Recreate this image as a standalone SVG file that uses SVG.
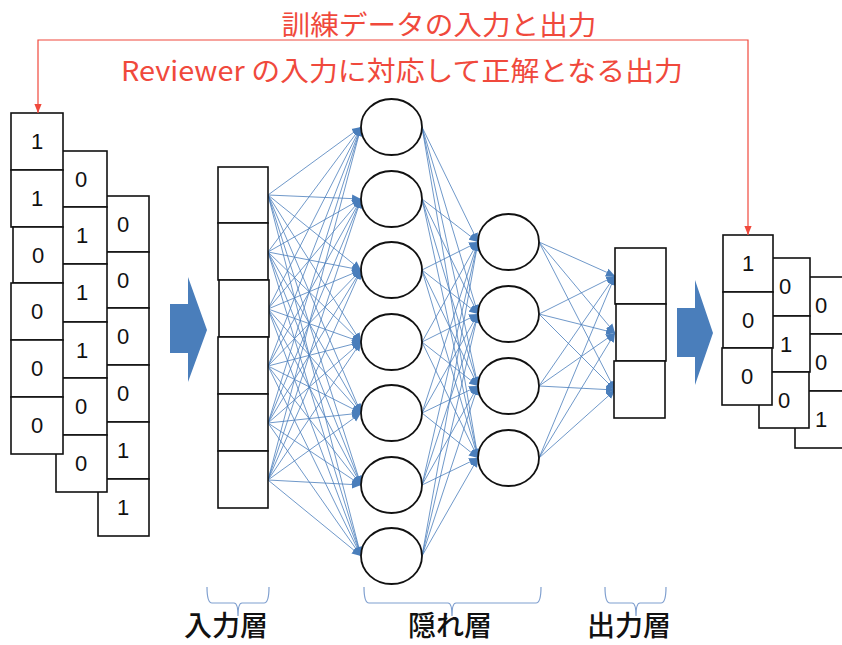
<svg xmlns="http://www.w3.org/2000/svg" width="842" height="645" viewBox="0 0 842 645">
<style>
.bx{fill:#fff;stroke:#111;stroke-width:1.6}
.dg{font-family:"Liberation Sans",Arial,sans-serif;font-size:22px;fill:#111;text-anchor:middle}
.cn line{stroke:#4a7ebb;stroke-width:0.8;marker-end:url(#ah)}
.nd{fill:#fff;stroke:#111;stroke-width:1.8}
.rd{font-family:"Noto Sans CJK JP","Liberation Sans",sans-serif;font-size:27px;fill:#f0493c;text-anchor:middle}
.lb{font-family:"Noto Sans CJK JP",sans-serif;font-size:28px;font-weight:500;fill:#111;text-anchor:middle}
.br{fill:none;stroke:#7f9fcf;stroke-width:1.2}
.ba{fill:#4a7ebb}
</style>
<defs>
<marker id="ah" viewBox="0 0 10 10" refX="10" refY="5" markerWidth="9" markerHeight="9" markerUnits="userSpaceOnUse" orient="auto"><path d="M0,0.5 L10,5 L0,9.5 z" fill="#4a7ebb"/></marker>
<marker id="rh" viewBox="0 0 10 10" refX="10" refY="5" markerWidth="9" markerHeight="9" markerUnits="userSpaceOnUse" orient="auto-start-reverse"><path d="M0,1 L10,5 L0,9 z" fill="#f0493c"/></marker>
</defs>
<rect width="842" height="645" fill="#fff"/>

<g id="titles">
<text class="rd" x="439" y="35" textLength="315" lengthAdjust="spacingAndGlyphs">訓練データの入力と出力</text>
<text class="rd" x="402" y="81" textLength="562" lengthAdjust="spacingAndGlyphs">Reviewer の入力に対応して正解となる出力</text>
</g>

<g id="input-data">
<rect class="bx" x="98" y="196" width="51" height="56"/><text class="dg" x="123" y="232">0</text>
<rect class="bx" x="98" y="252" width="51" height="56"/><text class="dg" x="123" y="288">0</text>
<rect class="bx" x="98" y="308" width="51" height="57"/><text class="dg" x="123" y="344">0</text>
<rect class="bx" x="98" y="365" width="51" height="57"/><text class="dg" x="123" y="401">0</text>
<rect class="bx" x="98" y="422" width="51" height="57"/><text class="dg" x="123" y="458">1</text>
<rect class="bx" x="98" y="479" width="51" height="57"/><text class="dg" x="123" y="515">1</text>
<rect class="bx" x="56" y="151" width="51" height="56"/><text class="dg" x="81" y="187">0</text>
<rect class="bx" x="56" y="207" width="51" height="57"/><text class="dg" x="82" y="243">1</text>
<rect class="bx" x="56" y="264" width="51" height="58"/><text class="dg" x="82" y="300">1</text>
<rect class="bx" x="56" y="322" width="51" height="56"/><text class="dg" x="82" y="358">1</text>
<rect class="bx" x="56" y="378" width="51" height="57"/><text class="dg" x="81" y="414">0</text>
<rect class="bx" x="56" y="435" width="51" height="57"/><text class="dg" x="81" y="471">0</text>
<rect class="bx" x="11" y="113" width="52" height="57"/><text class="dg" x="37" y="149">1</text>
<rect class="bx" x="11" y="170" width="52" height="57"/><text class="dg" x="37" y="206">1</text>
<rect class="bx" x="13" y="227" width="50" height="56"/><text class="dg" x="38" y="263">0</text>
<rect class="bx" x="11" y="283" width="52" height="57"/><text class="dg" x="37" y="319">0</text>
<rect class="bx" x="11" y="340" width="52" height="57"/><text class="dg" x="37" y="376">0</text>
<rect class="bx" x="11" y="397" width="52" height="57"/><text class="dg" x="37" y="433">0</text>
</g>

<g id="arrow-left"><path class="ba" d="M170,304 H188 V277 L207,330 L188,382 V353 H170 z"/></g>
<g id="arrow-right"><path class="ba" d="M677,308 H695 V280 L713,333 L695,385 V357 H677 z"/></g>

<g id="connectors" class="cn">
<line x1="268" y1="195" x2="361" y2="127"/><line x1="268" y1="195" x2="361" y2="199"/><line x1="268" y1="195" x2="361" y2="270"/><line x1="268" y1="195" x2="361" y2="342"/><line x1="268" y1="195" x2="361" y2="413"/><line x1="268" y1="195" x2="361" y2="485"/><line x1="268" y1="195" x2="361" y2="556"/>
<line x1="268" y1="252" x2="361" y2="127"/><line x1="268" y1="252" x2="361" y2="199"/><line x1="268" y1="252" x2="361" y2="270"/><line x1="268" y1="252" x2="361" y2="342"/><line x1="268" y1="252" x2="361" y2="413"/><line x1="268" y1="252" x2="361" y2="485"/><line x1="268" y1="252" x2="361" y2="556"/>
<line x1="268" y1="309" x2="361" y2="127"/><line x1="268" y1="309" x2="361" y2="199"/><line x1="268" y1="309" x2="361" y2="270"/><line x1="268" y1="309" x2="361" y2="342"/><line x1="268" y1="309" x2="361" y2="413"/><line x1="268" y1="309" x2="361" y2="485"/><line x1="268" y1="309" x2="361" y2="556"/>
<line x1="268" y1="366" x2="361" y2="127"/><line x1="268" y1="366" x2="361" y2="199"/><line x1="268" y1="366" x2="361" y2="270"/><line x1="268" y1="366" x2="361" y2="342"/><line x1="268" y1="366" x2="361" y2="413"/><line x1="268" y1="366" x2="361" y2="485"/><line x1="268" y1="366" x2="361" y2="556"/>
<line x1="268" y1="423" x2="361" y2="127"/><line x1="268" y1="423" x2="361" y2="199"/><line x1="268" y1="423" x2="361" y2="270"/><line x1="268" y1="423" x2="361" y2="342"/><line x1="268" y1="423" x2="361" y2="413"/><line x1="268" y1="423" x2="361" y2="485"/><line x1="268" y1="423" x2="361" y2="556"/>
<line x1="268" y1="480" x2="361" y2="127"/><line x1="268" y1="480" x2="361" y2="199"/><line x1="268" y1="480" x2="361" y2="270"/><line x1="268" y1="480" x2="361" y2="342"/><line x1="268" y1="480" x2="361" y2="413"/><line x1="268" y1="480" x2="361" y2="485"/><line x1="268" y1="480" x2="361" y2="556"/>
<line x1="422" y1="127" x2="478" y2="242"/><line x1="422" y1="127" x2="478" y2="314"/><line x1="422" y1="127" x2="478" y2="386"/><line x1="422" y1="127" x2="478" y2="458"/>
<line x1="422" y1="199" x2="478" y2="242"/><line x1="422" y1="199" x2="478" y2="314"/><line x1="422" y1="199" x2="478" y2="386"/><line x1="422" y1="199" x2="478" y2="458"/>
<line x1="422" y1="270" x2="478" y2="242"/><line x1="422" y1="270" x2="478" y2="314"/><line x1="422" y1="270" x2="478" y2="386"/><line x1="422" y1="270" x2="478" y2="458"/>
<line x1="422" y1="342" x2="478" y2="242"/><line x1="422" y1="342" x2="478" y2="314"/><line x1="422" y1="342" x2="478" y2="386"/><line x1="422" y1="342" x2="478" y2="458"/>
<line x1="422" y1="413" x2="478" y2="242"/><line x1="422" y1="413" x2="478" y2="314"/><line x1="422" y1="413" x2="478" y2="386"/><line x1="422" y1="413" x2="478" y2="458"/>
<line x1="422" y1="485" x2="478" y2="242"/><line x1="422" y1="485" x2="478" y2="314"/><line x1="422" y1="485" x2="478" y2="386"/><line x1="422" y1="485" x2="478" y2="458"/>
<line x1="422" y1="556" x2="478" y2="242"/><line x1="422" y1="556" x2="478" y2="314"/><line x1="422" y1="556" x2="478" y2="386"/><line x1="422" y1="556" x2="478" y2="458"/>
<line x1="539" y1="242" x2="615" y2="276"/><line x1="539" y1="242" x2="615" y2="333"/><line x1="539" y1="242" x2="615" y2="390"/>
<line x1="539" y1="314" x2="615" y2="276"/><line x1="539" y1="314" x2="615" y2="333"/><line x1="539" y1="314" x2="615" y2="390"/>
<line x1="539" y1="386" x2="615" y2="276"/><line x1="539" y1="386" x2="615" y2="333"/><line x1="539" y1="386" x2="615" y2="390"/>
<line x1="539" y1="458" x2="615" y2="276"/><line x1="539" y1="458" x2="615" y2="333"/><line x1="539" y1="458" x2="615" y2="390"/>
</g>

<g id="input-layer">
<rect class="bx" x="218" y="167" width="50" height="56"/>
<rect class="bx" x="218" y="223" width="50" height="57"/>
<rect class="bx" x="219" y="280" width="50" height="57"/>
<rect class="bx" x="218" y="337" width="50" height="57"/>
<rect class="bx" x="218" y="394" width="50" height="57"/>
<rect class="bx" x="218" y="451" width="50" height="57"/>
</g>

<g id="hidden-layer-1">
<ellipse class="nd" cx="391.5" cy="127" rx="30.5" ry="28"/>
<ellipse class="nd" cx="391.5" cy="199" rx="30.5" ry="28"/>
<ellipse class="nd" cx="391.5" cy="270" rx="30.5" ry="28"/>
<ellipse class="nd" cx="391.5" cy="342" rx="30.5" ry="28"/>
<ellipse class="nd" cx="391.5" cy="413" rx="30.5" ry="28"/>
<ellipse class="nd" cx="391.5" cy="485" rx="30.5" ry="28"/>
<ellipse class="nd" cx="391.5" cy="556" rx="30.5" ry="28"/>
</g>

<g id="hidden-layer-2">
<ellipse class="nd" cx="508.5" cy="242" rx="30.5" ry="28"/>
<ellipse class="nd" cx="508.5" cy="314" rx="30.5" ry="28"/>
<ellipse class="nd" cx="508.5" cy="386" rx="30.5" ry="28"/>
<ellipse class="nd" cx="508.5" cy="458" rx="30.5" ry="28"/>
</g>

<g id="output-layer">
<rect class="bx" x="615" y="248" width="51" height="56"/>
<rect class="bx" x="616" y="304" width="50" height="57"/>
<rect class="bx" x="614" y="361" width="51" height="57"/>
</g>

<g id="output-data">
<rect class="bx" x="795" y="277" width="52" height="57"/><text class="dg" x="821" y="313">0</text>
<rect class="bx" x="795" y="334" width="52" height="57"/><text class="dg" x="821" y="370">0</text>
<rect class="bx" x="795" y="391" width="52" height="57"/><text class="dg" x="821" y="427">1</text>
<rect class="bx" x="760" y="258" width="50" height="58"/><text class="dg" x="785" y="294">0</text>
<rect class="bx" x="760" y="316" width="50" height="56"/><text class="dg" x="786" y="352">1</text>
<rect class="bx" x="759" y="372" width="50" height="56"/><text class="dg" x="784" y="408">0</text>
<rect class="bx" x="723" y="235" width="50" height="57"/><text class="dg" x="748" y="271">1</text>
<rect class="bx" x="723" y="292" width="50" height="56"/><text class="dg" x="748" y="328">0</text>
<rect class="bx" x="722" y="348" width="50" height="57"/><text class="dg" x="747" y="384">0</text>
</g>

<g id="red-arrow" fill="none" stroke="#f0493c" stroke-width="1.2">
<path d="M38,113 V40 H748 V235" marker-start="url(#rh)" marker-end="url(#rh)"/>
</g>

<g id="brackets">
<path class="br" d="M207,587 Q207,603 212,603 H234 Q238,603 238,616 Q238,603 242,603 H264 Q269,603 269,587"/>
<path class="br" d="M364,587 Q364,603 369,603 H448 Q452,603 452,616 Q452,603 456,603 H536 Q541,603 541,587"/>
<path class="br" d="M605,587 Q605,603 610,603 H632 Q636,603 636,616 Q636,603 640,603 H661 Q666,603 666,587"/>
</g>

<g id="labels">
<text class="lb" x="226" y="636">入力層</text>
<text class="lb" x="450" y="636">隠れ層</text>
<text class="lb" x="629" y="636">出力層</text>
</g>
</svg>
